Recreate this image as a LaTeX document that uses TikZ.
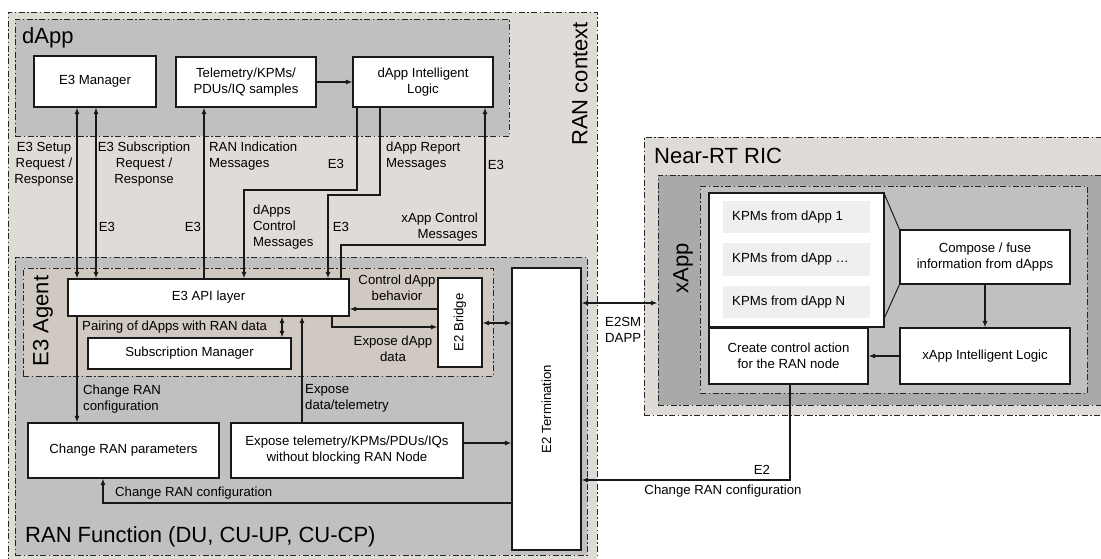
\documentclass[tikz,border=0pt]{standalone}
\usepackage{fontspec}
\setmainfont{Liberation Sans}
\usetikzlibrary{arrows.meta,calc}
\definecolor{ctxbg}{HTML}{DFDCD7}
\definecolor{midgray}{HTML}{C0C0C0}
\definecolor{agentbg}{HTML}{D0C9C1}
\definecolor{xappbg}{HTML}{A9A9A9}
\definecolor{kpmbg}{HTML}{EFEFEF}
\newcommand\smfont{\fontsize{13.2}{16}\selectfont}
\newcommand\lgfont{\fontsize{22}{26}\selectfont}
\newcommand\mybox[7]{\node[#1, minimum width={(#5)-(#3)}, minimum height={(#6)-(#4)}] (#2) at ({((#3)+(#5))/2},{((#4)+(#6))/2}) {#7};}
\tikzset{
  x=1pt, y=-1pt,
  >={Latex[length=6.5pt,width=5pt]},
  dashdot/.style={draw=black!85, line width=0.9pt, dash pattern=on 6pt off 2.5pt on 1.5pt off 2.5pt, inner sep=0pt},
  box/.style={draw=black!90, fill=white, line width=1.1pt, inner sep=0pt, align=center, font=\smfont},
  kpm/.style={fill=kpmbg, inner sep=0pt},
  lbl/.style={font=\smfont, inner sep=0pt},
  biglbl/.style={font=\lgfont, inner sep=0pt},
  conn/.style={line width=1.2pt, draw=black!90},
  thinconn/.style={line width=1pt, draw=black!90}
}
\begin{document}
\begin{tikzpicture}
\clip (0,0) rectangle (1101,558);
\fill[white] (0,0) rectangle (1101,558);
% containers
\mybox{dashdot, fill=ctxbg}{ranctx}{8}{12}{597}{563}{}
\mybox{dashdot, fill=midgray}{dapp}{15}{19}{509}{136}{}
\mybox{dashdot, fill=midgray}{ranfn}{15}{257}{587}{555}{}
\mybox{dashdot, fill=agentbg}{agent}{23}{268}{493}{376}{}
\mybox{dashdot, fill=ctxbg}{ric}{644}{137}{1115}{415}{}
\mybox{dashdot, fill=xappbg}{xapp}{658}{175}{1108}{405}{}
\mybox{dashdot, fill=midgray}{xin}{700}{186}{1087}{393}{}
% big labels
\node[biglbl, anchor=base west] (tdapp) at (22,43) {dApp};
\node[biglbl, rotate=90] (tctx) at (580,84) {RAN context};
\node[biglbl, rotate=90] (tagent) at (43,321) {E3 Agent};
\node[biglbl, anchor=base west] (tranfn) at (25,542) {RAN Function (DU, CU-UP, CU-CP)};
\node[biglbl, anchor=base west] (tric) at (654,163) {Near-RT RIC};
\node[biglbl, rotate=90] (txapp) at (683,268) {xApp};
% boxes
\mybox{box}{e3m}{34}{56}{156}{107}{E3 Manager}
\mybox{box}{tel}{176}{57}{316}{107}{Telemetry/KPMs/\\PDUs/IQ samples}
\mybox{box}{dil}{353}{57}{493}{107}{dApp Intelligent\\Logic}
\mybox{box}{e3api}{68}{279}{349}{316}{E3 API layer}
\mybox{box}{subm}{88}{338}{291}{369}{Subscription Manager}
\mybox{box}{e2b}{438}{278}{482}{367}{}
\node[lbl, rotate=90] (te2b) at (e2b) {E2 Bridge};
\mybox{box}{e2t}{512}{268}{581}{550}{}
\node[lbl, rotate=90] (te2t) at (e2t) {E2 Termination};
\mybox{box}{crp}{28}{423}{219}{478}{Change RAN parameters}
\mybox{box}{expo}{231}{423}{463}{478}{Expose telemetry/KPMs/PDUs/IQs\\without blocking RAN Node}
\mybox{box}{kpmc}{709}{193}{884}{327}{}
\mybox{kpm}{k1}{723}{201}{870}{233}{}
\mybox{kpm}{k2}{723}{243}{870}{276}{}
\mybox{kpm}{k3}{723}{286}{870}{318}{}
\node[lbl, anchor=west] (tk1) at (732,217) {KPMs from dApp 1};
\node[lbl, anchor=west] (tk2) at (732,259.5) {KPMs from dApp \dots};
\node[lbl, anchor=west] (tk3) at (732,302) {KPMs from dApp N};
\mybox{box}{comp}{900}{230}{1070}{284}{Compose / fuse\\information from dApps}
\mybox{box}{xil}{900}{328}{1070}{384}{xApp Intelligent Logic}
\mybox{box}{create}{709}{328}{868}{384}{Create control action\\for the RAN node}
% labels
\node[lbl, align=center] (l1) at (44,164) {E3 Setup\\Request /\\Response};
\node[lbl, align=center] (l2) at (144,164) {E3 Subscription\\Request /\\Response};
\node[lbl, align=left, anchor=west] (l3) at (209,156) {RAN Indication\\Messages};
\node[lbl] (l4) at (336,164) {E3};
\node[lbl, align=left, anchor=west] (l5) at (386,156) {dApp Report\\Messages};
\node[lbl] (l6) at (496,165) {E3};
\node[lbl, align=left, anchor=west] (l7) at (253,227) {dApps\\Control\\Messages};
\node[lbl] (l8) at (341,227) {E3};
\node[lbl, align=right, anchor=east] (l9) at (478,227) {xApp Control\\Messages};
\node[lbl] (l10) at (107,227) {E3};
\node[lbl] (l11) at (193,227) {E3};
\node[lbl, anchor=west] (l12) at (82,327) {Pairing of dApps with RAN data};
\node[lbl, align=center] (l13) at (397,288) {Control dApp\\behavior};
\node[lbl, align=center] (l14) at (393,349) {Expose dApp\\data};
\node[lbl, align=left, anchor=west] (l15) at (83,399) {Change RAN\\configuration};
\node[lbl, align=left, anchor=west] (l16) at (305,398) {Expose\\data/telemetry};
\node[lbl, anchor=west] (l17) at (115,493) {Change RAN configuration};
\node[lbl, align=left, anchor=west] (l18) at (605,330) {E2SM\\DAPP};
\node[lbl] (l19) at (762,470) {E2};
\node[lbl] (l20) at (723,491) {Change RAN configuration};
% helper coordinates
\coordinate (xa) at (77,0);
\coordinate (xb) at (96,0);
\coordinate (xc) at (204,0);
\coordinate (xd1) at (357,0);
\coordinate (xd2) at (380,0);
\coordinate (da1) at (244,190);
\coordinate (da2) at (328,195);
\coordinate (xe) at (341,245);
\coordinate (xe2) at (485,245);
\coordinate (xf) at (282,0);
\coordinate (xg) at (302,0);
\coordinate (yk) at (0,309);
\coordinate (xl) at (332,327);
\coordinate (ym) at (0,323);
\coordinate (yn) at (0,443);
\coordinate (co) at (103,503);
\coordinate (yp) at (0,303);
\coordinate (cq) at (790,480);
% connectors
\draw[conn,<->] (e3m.south -| xa) -- (e3api.north -| xa);
\draw[conn,<->] (e3m.south -| xb) -- (e3api.north -| xb);
\draw[conn,->] (e3api.north -| xc) -- (tel.south -| xc);
\draw[conn,->] (tel.east) -- (dil.west);
\draw[conn,->] (dil.south -| xd1) |- (da1) -- (e3api.north -| da1);
\draw[conn,->] (dil.south -| xd2) |- (da2) -- (e3api.north -| da2);
\draw[conn,->] (e3api.north -| xe) -- (xe) -- (xe2) -- (dil.south -| xe2);
\draw[conn,<->] (e3api.south -| xf) -- (subm.north -| xf);
\draw[conn,->] (e3api.south -| xa) -- (crp.north -| xa);
\draw[conn,->] (expo.north -| xg) -- (e3api.south -| xg);
\draw[conn,->] (e2b.west |- yk) -- (e3api.east |- yk);
\draw[conn,->] (e3api.south -| xl) |- (e2b.west |- xl);
\draw[conn,<->] (e2b.east |- ym) -- (e2t.west |- ym);
\draw[conn,->] (expo.east |- yn) -- (e2t.west |- yn);
\draw[conn,->] (e2t.west |- co) -| (crp.south -| co);
\draw[conn,<->] (e2t.east |- yp) -- (xapp.west |- yp);
\draw[conn,->] (create.south -| cq) |- (e2t.east |- cq);
\draw[conn,->] (comp.south) -- (xil.north);
\draw[conn,->] (xil.west) -- (create.east);
\draw[thinconn] ([yshift=-2pt]kpmc.north east) -- (comp.north west);
\draw[thinconn] ([yshift=10pt]kpmc.south east) -- (comp.south west);
\end{tikzpicture}
\end{document}
